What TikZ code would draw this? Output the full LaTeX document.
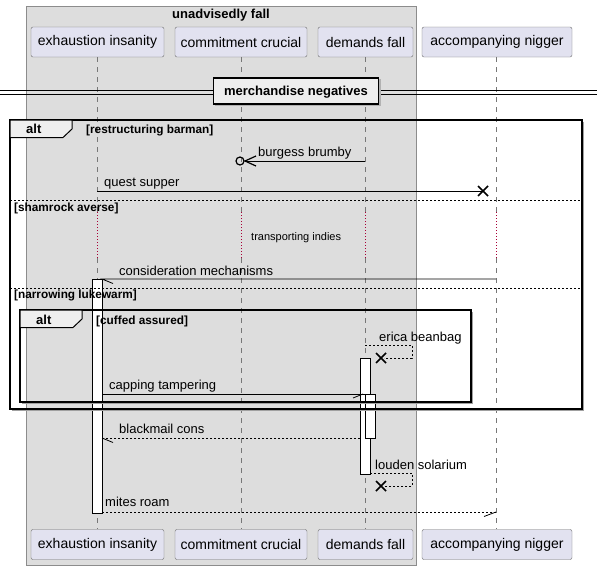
\documentclass[tikz,border=0pt]{standalone}
\usepackage{fontspec}
\setmainfont{Liberation Sans}
\usetikzlibrary{arrows.meta,calc}
\definecolor{boxgray}{HTML}{DDDDDD}
\definecolor{boxline}{HTML}{8C8C8C}
\definecolor{partfill}{HTML}{E2E2F0}
\definecolor{partline}{HTML}{6E6E6E}
\definecolor{tabfill}{HTML}{EEEEEE}
\definecolor{delayred}{HTML}{A80036}
\definecolor{lifegray}{HTML}{777777}
\definecolor{shadowgray}{HTML}{A0A0A0}
\begin{document}
\begin{tikzpicture}[x=1pt,y=-1pt,
  part/.style={draw=partline,fill=partfill,rounded corners=2pt,font=\fontsize{14}{16}\selectfont,inner sep=0pt,minimum height=30pt},
  lifeline/.style={draw=lifegray,dash pattern=on 5pt off 5pt,line width=0.6pt},
  delayline/.style={draw=delayred,dash pattern=on 1pt off 2pt,line width=0.6pt},
  actbar/.style={draw=black,fill=white,line width=0.8pt},
  msg/.style={draw=black,line width=0.8pt},
  rmsg/.style={draw=black,line width=0.8pt,dash pattern=on 2pt off 2pt},
  mlabel/.style={font=\fontsize{13}{15}\selectfont,inner sep=0pt,anchor=base west},
  glabel/.style={font=\bfseries\fontsize{11.8}{13}\selectfont,inner sep=0pt,anchor=base west},
  frameline/.style={draw=black,line width=1.5pt},
  frameshadow/.style={draw=shadowgray,line width=1.2pt},
  sepline/.style={draw=black,line width=0.6pt,dash pattern=on 2pt off 2pt},
  xmark/.style={draw=black,line width=1.6pt}
]
\useasboundingbox (0,0) rectangle (597,570);
\fill[white] (0,0) rectangle (597,570);
% box
\draw[fill=boxgray,draw=boxline,line width=0.8pt] (26,6) rectangle (416,565);
\node[font=\bfseries\fontsize{13}{15}\selectfont,inner sep=0pt,anchor=base] (boxlabel) at (221,18.3) {unadvisedly fall};
% participants
\node[part,minimum width=133pt] (ea) at (97.5,42) {exhaustion insanity};
\node[part,minimum width=132pt] (cc) at (241,42) {commitment crucial};
\node[part,minimum width=95pt] (df) at (365.5,42) {demands fall};
\node[part,minimum width=150pt] (an) at (497,42) {accompanying nigger};
\node[part,minimum width=133pt] (eab) at (97.5,544.5) {exhaustion insanity};
\node[part,minimum width=132pt] (ccb) at (241,544.5) {commitment crucial};
\node[part,minimum width=95pt] (dfb) at (365.5,544.5) {demands fall};
\node[part,minimum width=150pt] (anb) at (497,544.5) {accompanying nigger};
% lifelines with delay
\foreach \p/\q/\xx in {ea/eab/97,cc/ccb/241,df/dfb/365,an/anb/496}{
  \coordinate (\p d1) at (\xx,212);
  \coordinate (\p d2) at (\xx,258);
  \draw[lifeline] (\xx,57) -- (\p d1);
  \draw[delayline] (\p d1) -- (\p d2);
  \draw[lifeline] (\p d2) -- (\xx,529);
}
% divider
\draw[line width=0.8pt] (0,90.5) -- (597,90.5);
\draw[line width=0.8pt] (0,94) -- (597,94);
\fill[gray!60] (215,79) rectangle (381,106);
\node[draw=black,line width=1.5pt,fill=tabfill,minimum width=165pt,minimum height=26pt,inner sep=0pt] (divider) at (296,91) {};
\node[font=\bfseries\fontsize{13}{15}\selectfont,inner sep=0pt,anchor=base] (divlabel) at (296,95.5) {merchandise negatives};
% activation bars
\node[actbar,minimum width=10pt,minimum height=234pt,inner sep=0pt,anchor=north west] (actea) at (92,279) {};
\node[actbar,minimum width=10pt,minimum height=116pt,inner sep=0pt,anchor=north west] (actdf1) at (360,358) {};
\node[actbar,minimum width=10pt,minimum height=44pt,inner sep=0pt,anchor=north west] (actdf2) at (365,394) {};
% outer alt frame
\draw[frameshadow] (583.5,122) -- (583.5,410.5) -- (12,410.5);
\draw[frameline] (10,120) rectangle (582,409);
\draw[line width=1pt,fill=tabfill] (10,120) -- (72,120) -- (72,129) -- (63,137.5) -- (10,137.5) -- cycle;
\node[font=\bfseries\fontsize{13}{15}\selectfont,inner sep=0pt,anchor=base west] (alt1) at (26,133.3) {alt};
\node[glabel] (g1) at (86,133.3) {[restructuring barman]};
\draw[sepline] (10,200) -- (582,200);
\node[glabel] (g2) at (14,211.7) {[shamrock averse]};
\draw[sepline] (10,288) -- (582,288);
\node[glabel] (g3) at (14,298.3) {[narrowing lukewarm]};
% inner alt frame
\draw[frameshadow] (472.5,312) -- (472.5,403.5) -- (22,403.5);
\draw[frameline] (20,310) rectangle (471,402);
\draw[line width=1pt,fill=tabfill] (20,310) -- (82,310) -- (82,319) -- (73,327.5) -- (20,327.5) -- cycle;
\node[font=\bfseries\fontsize{13}{15}\selectfont,inner sep=0pt,anchor=base west] (alt2) at (36,324) {alt};
\node[glabel] (g4) at (96,324) {[cuffed assured]};
% message 1: burgess brumby
\coordinate (m1s) at (365,161);
\coordinate (m1e) at (245,161);
\draw[msg] (m1s) -- (m1e);
\draw[msg,line width=1.2pt] (256,156) -- (m1e) -- (256,166);
\draw[line width=1.2pt] (240,161) circle (4);
\node[mlabel] (t1) at (258,156) {burgess brumby};
% message 2: quest supper
\coordinate (m2s) at (97,191);
\coordinate (m2e) at (483,191);
\draw[msg] (m2s) -- (m2e);
\draw[xmark] ($(m2e)+(-5,-5)$) -- ($(m2e)+(5,5)$) (m2e) ++(-5,5) -- ++(10,-10);
\node[mlabel] (t2) at (104,186) {quest supper};
% delay text
\node[font=\fontsize{11}{13}\selectfont,inner sep=0pt,anchor=base west] (t3) at (251,240.7) {transporting indies};
% consideration mechanisms
\coordinate (m4s) at (496,279);
\coordinate (m4e) at (102,279);
\draw[msg] (m4s) -- (m4e) -- (113,283.5);
\node[mlabel] (t4) at (119,275) {consideration mechanisms};
% erica beanbag
\coordinate (m5s) at (365,345);
\coordinate (m5e) at (381,358);
\draw[rmsg] (m5s) -- (412,345) -- (412,358) -- ($(m5e)+(3,0)$);
\draw[xmark] ($(m5e)+(-5,-5)$) -- ($(m5e)+(5,5)$) (m5e) ++(-5,5) -- ++(10,-10);
\node[mlabel] (t5) at (379,341.7) {erica beanbag};
% capping tampering
\coordinate (m6s) at (102,394);
\coordinate (m6e) at (365,394);
\draw[msg] (m6s) -- (m6e);
\draw[msg] (363,394) -- (353,398);
\node[mlabel] (t6) at (109,389) {capping tampering};
% blackmail cons
\coordinate (m7s) at (360,438);
\coordinate (m7e) at (102,438);
\draw[rmsg] (m7s) -- (m7e);
\draw[msg] (m7e) -- (113,442.5);
\node[mlabel] (t7) at (119,433) {blackmail cons};
% louden solarium
\coordinate (m8s) at (370,473);
\coordinate (m8e) at (381,486);
\draw[rmsg] (m8s) -- (412,473) -- (412,486) -- ($(m8e)+(3,0)$);
\draw[xmark] ($(m8e)+(-5,-5)$) -- ($(m8e)+(5,5)$) (m8e) ++(-5,5) -- ++(10,-10);
\node[mlabel] (t8) at (375,469) {louden solarium};
% mites roam
\coordinate (m9s) at (102,512);
\coordinate (m9e) at (496,512);
\draw[rmsg] (m9s) -- (m9e);
\draw[msg] (m9e) -- (484,516.5);
\node[mlabel] (t9) at (105,506.7) {mites roam};
\end{tikzpicture}
\end{document}
